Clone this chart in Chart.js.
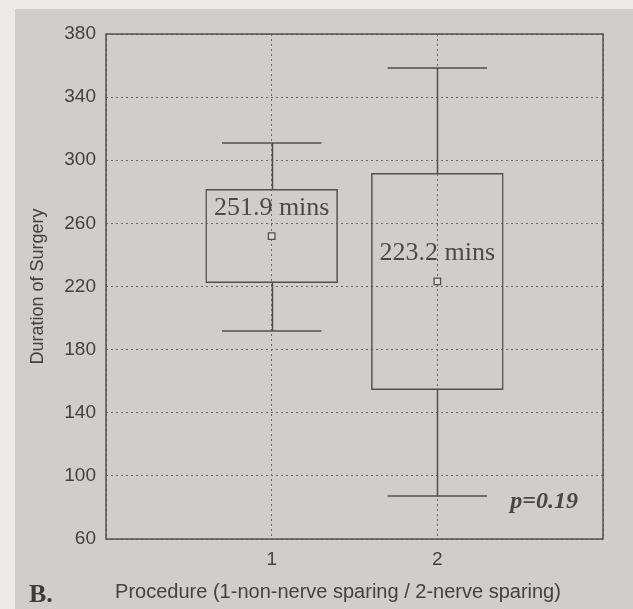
<!DOCTYPE html>
<html>
<head>
<meta charset="utf-8">
<title>Duration of Surgery by Procedure</title>
<script src="https://cdn.jsdelivr.net/npm/chart.js@4/dist/chart.umd.min.js"></script>
<style>
  html, body { margin: 0; padding: 0; background: #ecebe8; }
  #wrap { width: 633px; height: 609px; }
</style>
</head>
<body>
<div id="wrap"><canvas id="c" width="633" height="609"></canvas></div>
<script>
// Procedure groups (1 = non-nerve sparing, 2 = nerve sparing)
const procedures   = [1, 2];
// Box edges (interquartile range), minutes
const boxLow       = [222.2, 154.4];
const boxHigh      = [281.8, 292.0];
// Whisker ends, minutes
const whiskerLow   = [191.8, 87.2];
const whiskerHigh  = [311.0, 358.5];
// Mean durations, minutes
const means        = [251.9, 223.2];
const meanLabels   = means.map(m => m.toFixed(1) + ' mins');
// Y axis ticks
const yTicks       = [60, 100, 140, 180, 220, 260, 300, 340, 380];
const pValueText   = 'p=0.19';

const INK = '#50504e';
const TXT = '#424240';

const boxData  = procedures.map((p, i) => ({ x: p, y: [boxLow[i], boxHigh[i]] }));
const meanData = procedures.map((p, i) => ({ x: p, y: means[i] }));

const decor = {
  id: 'decor',
  beforeDraw(chart) {
    const { ctx, width, height } = chart;
    ctx.save();
    ctx.fillStyle = '#ecebe8';
    ctx.fillRect(0, 0, width, height);
    ctx.fillStyle = '#cfcecb';
    ctx.fillRect(15, 9, width - 15, height - 9);
    ctx.restore();
  },
  afterDatasetsDraw(chart) {
    const { ctx, chartArea: a, scales: { x, y } } = chart;
    ctx.save();
    // whiskers
    ctx.strokeStyle = INK;
    ctx.lineWidth = 1.5;
    const capHalf = 0.3;
    procedures.forEach((p, i) => {
      const cx = Math.round(x.getPixelForValue(p)) + 0.5;
      const l = x.getPixelForValue(p - capHalf);
      const r = x.getPixelForValue(p + capHalf);
      const yHi = y.getPixelForValue(whiskerHigh[i]);
      const yLo = y.getPixelForValue(whiskerLow[i]);
      ctx.beginPath();
      ctx.moveTo(cx, y.getPixelForValue(boxHigh[i]));
      ctx.lineTo(cx, yHi);
      ctx.moveTo(cx, y.getPixelForValue(boxLow[i]));
      ctx.lineTo(cx, yLo);
      ctx.moveTo(l, yHi); ctx.lineTo(r, yHi);
      ctx.moveTo(l, yLo); ctx.lineTo(r, yLo);
      ctx.stroke();
    });
    // plot frame
    ctx.lineWidth = 1.5;
    ctx.strokeRect(a.left, a.top, a.right - a.left, a.bottom - a.top);

    // mean labels
    ctx.fillStyle = '#4a4a48';
    ctx.font = '26px "Liberation Serif", "Times New Roman", serif';
    ctx.textAlign = 'center';
    ctx.textBaseline = 'alphabetic';
    procedures.forEach((p, i) => {
      ctx.fillText(meanLabels[i], x.getPixelForValue(p), y.getPixelForValue(means[i]) - 21);
    });

    // significance note
    ctx.font = 'italic bold 24px "Liberation Serif", "Times New Roman", serif';
    ctx.fillStyle = '#484846';
    ctx.textAlign = 'center';
    ctx.fillText(pValueText, x.getPixelForValue(2.645), y.getPixelForValue(79.5));

    // x axis title
    ctx.font = '20px "Liberation Sans", Arial, sans-serif';
    ctx.fillStyle = TXT;
    ctx.textAlign = 'center';
    ctx.textBaseline = 'middle';
    ctx.fillText('Procedure (1-non-nerve sparing / 2-nerve sparing)', 338, 592);

    // panel letter
    ctx.font = 'bold 26px "Liberation Serif", "Times New Roman", serif';
    ctx.fillStyle = '#3c3c3a';
    ctx.textAlign = 'left';
    ctx.textBaseline = 'alphabetic';
    ctx.fillText('B.', 29, 602);
    ctx.restore();
  }
};

new Chart(document.getElementById('c'), {
  type: 'bar',
  data: {
    datasets: [
      {
        type: 'bar',
        label: 'IQR',
        data: boxData,
        backgroundColor: 'rgba(0,0,0,0)',
        borderColor: INK,
        borderWidth: 1.5,
        borderSkipped: false,
        barPercentage: 0.8,
        categoryPercentage: 1.0,
        order: 2
      },
      {
        type: 'scatter',
        label: 'Mean',
        data: meanData,
        pointStyle: 'rect',
        radius: 4.6,
        borderWidth: 1.3,
        borderColor: INK,
        backgroundColor: '#dcdbd8',
        showLine: false,
        order: 1
      }
    ]
  },
  options: {
    responsive: false,
    animation: false,
    devicePixelRatio: 1,
    layout: { padding: { left: 0, top: 34, right: 30, bottom: 0 } },
    plugins: { legend: { display: false }, tooltip: { enabled: false } },
    scales: {
      x: {
        type: 'linear',
        min: 0,
        max: 3,
        offset: false,
        afterFit(s) { s.height = 70; },
        afterBuildTicks(s) { s.ticks = [0, 1, 2, 3].map(v => ({ value: v })); },
        ticks: {
          stepSize: 1,
          padding: 9,
          color: TXT,
          font: { family: '"Liberation Sans", Arial, sans-serif', size: 19 },
          callback: v => (procedures.includes(v) ? String(v) : '')
        },
        grid: { color: '#686866', lineWidth: 1, drawTicks: false, offset: false },
        border: { display: false, dash: [2, 3] }
      },
      y: {
        type: 'linear',
        min: yTicks[0],
        max: yTicks[yTicks.length - 1],
        afterFit(s) { s.width = 106; },
        afterBuildTicks(s) { s.ticks = yTicks.map(v => ({ value: v })); },
        ticks: {
          padding: 10,
          color: TXT,
          font: { family: '"Liberation Sans", Arial, sans-serif', size: 19 }
        },
        grid: { color: '#686866', lineWidth: 1, drawTicks: false },
        border: { display: false, dash: [2, 3] },
        title: {
          display: true,
          text: 'Duration of Surgery',
          color: TXT,
          font: { family: '"Liberation Sans", Arial, sans-serif', size: 18 },
          padding: { top: 27, bottom: 0 }
        }
      }
    }
  },
  plugins: [decor]
});
</script>
</body>
</html>
